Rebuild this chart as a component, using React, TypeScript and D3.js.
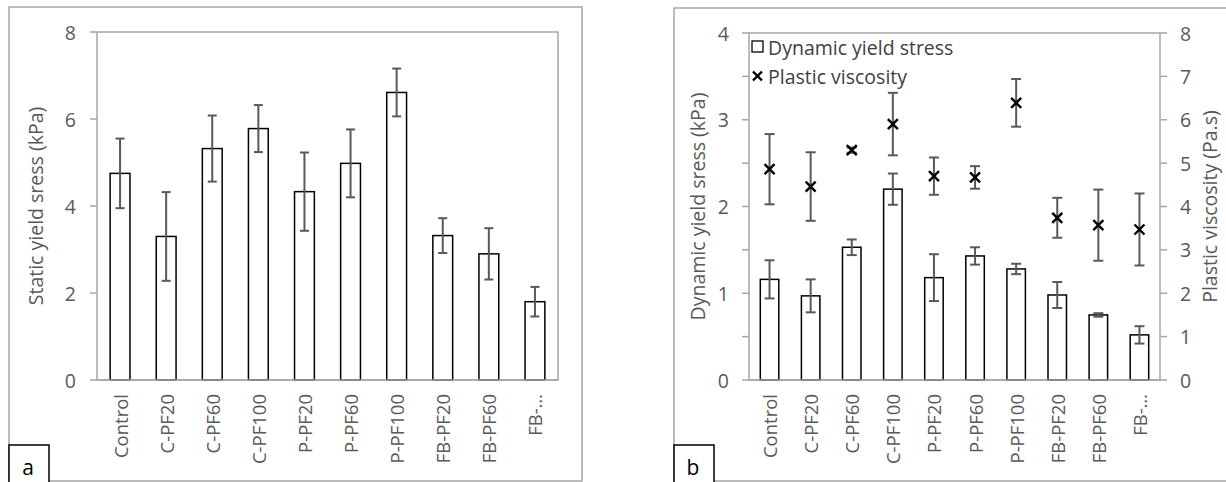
import React from 'react';
import { scaleBand, scaleLinear } from 'd3';

const categories = ['Control', 'C-PF20', 'C-PF60', 'C-PF100', 'P-PF20', 'P-PF60', 'P-PF100', 'FB-PF20', 'FB-PF60', 'FB-…'];

// chart a
const staticYield = [4.75, 3.3, 5.32, 5.78, 4.33, 4.98, 6.61, 3.32, 2.9, 1.8];
const staticErr = [0.8, 1.02, 0.76, 0.54, 0.9, 0.78, 0.55, 0.4, 0.59, 0.34];
const staticTicks = [0, 2, 4, 6, 8];

// chart b
const dynamicYield = [1.16, 0.97, 1.53, 2.2, 1.18, 1.43, 1.28, 0.98, 0.75, 0.52];
const dynamicErr = [0.22, 0.19, 0.09, 0.18, 0.27, 0.1, 0.06, 0.15, 0.02, 0.1];
const plasticVisc = [4.86, 4.46, 5.3, 5.9, 4.7, 4.67, 6.39, 3.74, 3.57, 3.47];
const plasticErr = [0.81, 0.79, 0.06, 0.72, 0.43, 0.26, 0.55, 0.46, 0.82, 0.83];
const dynTicks = [0, 0.5, 1, 1.5, 2, 2.5, 3, 3.5, 4];
const viscTicks = [0, 1, 2, 3, 4, 5, 6, 7, 8];

const FONT = '"Open Sans", sans-serif';
const GRID = '#a6a6a6';
const TXT = '#595959';
const ERR = '#595959';
const TICK_FS = 19.5;
const TITLE_FS = 19.5;
const CAT_FS = 18.5;

const Cross = ({ x, y, s = 5 }) => (
  <g stroke="#000" strokeWidth={2.4}>
    <line x1={x - s} y1={y - s} x2={x + s} y2={y + s} />
    <line x1={x - s} y1={y + s} x2={x + s} y2={y - s} />
  </g>
);

const ErrorBar = ({ x, y1, y2, cap }) => (
  <g stroke={ERR} strokeWidth={2}>
    <line x1={x} x2={x} y1={y1} y2={y2} />
    <line x1={x - cap / 2} x2={x + cap / 2} y1={y1} y2={y1} />
    <line x1={x - cap / 2} x2={x + cap / 2} y1={y2} y2={y2} />
  </g>
);

const XLabels = ({ x, y }) => (
  <g>
    {categories.map((c) => {
      const cx = x(c) + x.bandwidth() / 2;
      return (
        <text key={c} transform={`translate(${cx},${y}) rotate(-90)`} textAnchor="end"
          dominantBaseline="central" fontSize={CAT_FS} fill={TXT} fontFamily={FONT}>{c}</text>
      );
    })}
  </g>
);

const PanelTag = ({ x, label }) => (
  <g>
    <rect x={x} y={445} width={40} height={44} fill="#fff" stroke="#000" strokeWidth={1.5} />
    <text x={x + 19} y={475} textAnchor="middle" fontSize={21} fontFamily={FONT} fill="#000">{label}</text>
  </g>
);

const ChartA = () => {
  const L = 97, R = 558, T = 32, B = 380;
  const x = scaleBand().domain(categories).range([L, R]);
  const y = scaleLinear().domain([0, 8]).range([B, T]);
  const bw = x.bandwidth() * 0.43;
  return (
    <g>
      <rect x={9} y={7} width={573} height={474} fill="#fff" stroke={GRID} strokeWidth={1.5} />
      <rect x={L} y={T} width={R - L} height={B - T} fill="none" stroke={GRID} strokeWidth={1.5} />
      {staticTicks.map((t) => (
        <g key={t}>
          <line x1={L - 7} x2={L} y1={y(t)} y2={y(t)} stroke={GRID} strokeWidth={1.5} />
          <text x={L - 21} y={y(t)} textAnchor="end" dominantBaseline="central"
            fontSize={TICK_FS} fill={TXT} fontFamily={FONT}>{t}</text>
        </g>
      ))}
      {categories.map((c, i) => {
        const cx = x(c) + x.bandwidth() / 2;
        return (
          <g key={c}>
            <rect x={cx - bw / 2} y={y(staticYield[i])} width={bw} height={B - y(staticYield[i])}
              fill="#fff" stroke="#000" strokeWidth={1.5} />
            <ErrorBar x={cx} y1={y(staticYield[i] + staticErr[i])} y2={y(staticYield[i] - staticErr[i])} cap={9} />
          </g>
        );
      })}
      <line x1={L} x2={R} y1={B} y2={B} stroke={GRID} strokeWidth={1.5} />
      <XLabels x={x} y={394} />
      <text transform={`translate(35,${(T + B) / 2}) rotate(-90)`} textAnchor="middle" dominantBaseline="central"
        fontSize={TITLE_FS} fill={TXT} fontFamily={FONT}>Static yield sress (kPa)</text>
      <PanelTag x={9} label="a" />
    </g>
  );
};

const ChartB = () => {
  const L = 749, R = 1160, T = 33, B = 380;
  const x = scaleBand().domain(categories).range([L, R]);
  const y = scaleLinear().domain([0, 4]).range([B, T]);
  const y2 = scaleLinear().domain([0, 8]).range([B, T]);
  const bw = x.bandwidth() * 0.45;
  return (
    <g>
      <rect x={674} y={8} width={600} height={473} fill="#fff" stroke={GRID} strokeWidth={1.5} />
      <rect x={L} y={T} width={R - L} height={B - T} fill="none" stroke={GRID} strokeWidth={1.5} />
      {dynTicks.map((t) => (
        <g key={t}>
          <line x1={L - 7} x2={L} y1={y(t)} y2={y(t)} stroke={GRID} strokeWidth={1.5} />
          {Number.isInteger(t) && (
            <text x={L - 20} y={y(t)} textAnchor="end" dominantBaseline="central"
              fontSize={TICK_FS} fill={TXT} fontFamily={FONT}>{t}</text>
          )}
        </g>
      ))}
      {viscTicks.map((t) => (
        <g key={t}>
          <line x1={R} x2={R + 7} y1={y2(t)} y2={y2(t)} stroke={GRID} strokeWidth={1.5} />
          <text x={R + 20} y={y2(t)} textAnchor="start" dominantBaseline="central"
            fontSize={TICK_FS} fill={TXT} fontFamily={FONT}>{t}</text>
        </g>
      ))}
      {categories.map((c, i) => {
        const cx = x(c) + x.bandwidth() / 2;
        return (
          <g key={c}>
            <rect x={cx - bw / 2} y={y(dynamicYield[i])} width={bw} height={B - y(dynamicYield[i])}
              fill="#fff" stroke="#000" strokeWidth={1.5} />
            <ErrorBar x={cx} y1={y(dynamicYield[i] + dynamicErr[i])} y2={y(dynamicYield[i] - dynamicErr[i])} cap={10} />
            <ErrorBar x={cx} y1={y2(plasticVisc[i] + plasticErr[i])} y2={y2(plasticVisc[i] - plasticErr[i])} cap={10} />
            <Cross x={cx} y={y2(plasticVisc[i])} />
          </g>
        );
      })}
      <line x1={L} x2={R} y1={B} y2={B} stroke={GRID} strokeWidth={1.5} />
      <XLabels x={x} y={394} />
      {/* legend */}
      <rect x={752} y={41} width={11} height={11} fill="#fff" stroke="#000" strokeWidth={1.3} />
      <text x={768} y={47} dominantBaseline="central" fontSize={19.5} fill="#404040" fontFamily={FONT}>Dynamic yield stress</text>
      <Cross x={757.5} y={76} s={4.5} />
      <text x={768} y={76} dominantBaseline="central" fontSize={19.5} fill="#404040" fontFamily={FONT}>Plastic viscosity</text>
      <text transform={`translate(697,${(T + B) / 2}) rotate(-90)`} textAnchor="middle" dominantBaseline="central"
        fontSize={TITLE_FS} fill={TXT} fontFamily={FONT}>Dynamic yield sress (kPa)</text>
      <text transform={`translate(1209,${(T + B) / 2}) rotate(-90)`} textAnchor="middle" dominantBaseline="central"
        fontSize={TITLE_FS} fill={TXT} fontFamily={FONT}>Plastic viscosity (Pa.s)</text>
      <PanelTag x={674} label="b" />
    </g>
  );
};

export default function App() {
  return (
    <svg width={1226} height={482} style={{ position: 'absolute', left: 0, top: 0, background: '#fff' }}>
      <ChartA />
      <ChartB />
    </svg>
  );
}
